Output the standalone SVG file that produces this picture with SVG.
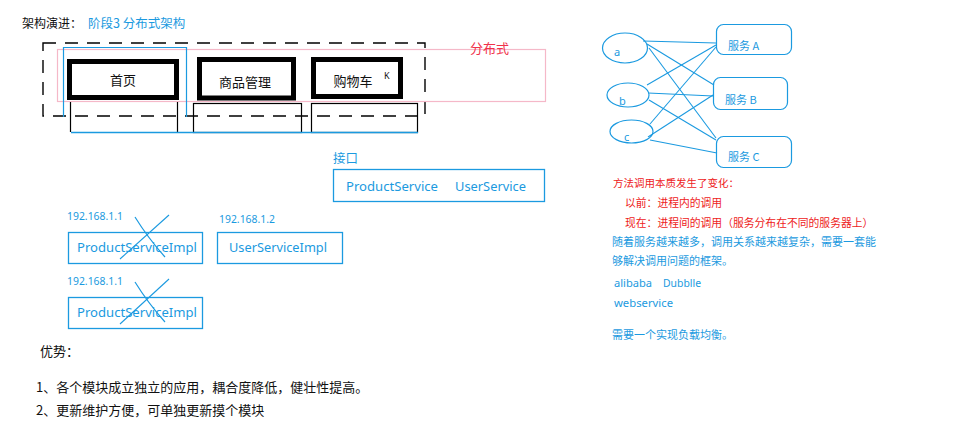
<svg xmlns="http://www.w3.org/2000/svg" width="971" height="430" viewBox="0 0 971 430">
<style>
  .cjk { font-family: "Noto Sans CJK SC", "Noto Sans", sans-serif; }
  .lat { font-family: "Noto Sans", "Noto Sans CJK SC", sans-serif; }
  .blk { fill: #111; }
  .blu { fill: #1b9ae0; }
  .red { fill: #ee2222; }
  .thick { fill: #fff; stroke: #000; stroke-width: 5; }
  .thin { fill: none; stroke: #000; stroke-width: 1.2; }
  .bbox { fill: #fff; stroke: #1b9ae0; stroke-width: 1.3; }
  .bl { fill: none; stroke: #1b9ae0; stroke-width: 1.2; }
  .conn line { stroke: #1b9ae0; stroke-width: 1.1; }
</style>
<rect width="971" height="430" fill="#fff"/>

<!-- title -->
<text class="cjk blk" x="22" y="27.5" font-size="12">架构演进：</text>
<text class="cjk blu" x="88" y="27.5" font-size="12.5">阶段3 分布式架构</text>

<!-- dashed distributed frame -->
<g id="frame">
  <path d="M43,43 H425 V116 H43 Z" fill="none" stroke="#000" stroke-width="1.4" stroke-dasharray="13,9"/>
  <rect x="57.5" y="49.5" width="488" height="52" fill="none" stroke="#f5b8c8" stroke-width="1.2"/>
  <path d="M63.5,117 V47.5 H186.5 V117" class="bl"/>
  <text class="cjk" x="470" y="53" font-size="13" fill="#f0324a">分布式</text>
</g>

<!-- lower thin boxes -->
<g id="lower-boxes">
  <path d="M70.5,102 V132 M177.5,102 V132" class="thin"/>
  <rect x="193.5" y="103.5" width="108" height="29" class="thin"/>
  <rect x="311.5" y="103.5" width="106" height="29" class="thin"/>
  <line x1="71" y1="132.5" x2="418" y2="132.5" stroke="#1b9ae0" stroke-width="1.3"/>
</g>

<g id="node-home">
  <rect x="69.5" y="61.5" width="107" height="36" class="thick"/>
  <text class="cjk blk" x="123" y="85" font-size="13" text-anchor="middle">首页</text>
</g>
<g id="node-goods">
  <rect x="199.5" y="59.5" width="94" height="38.5" class="thick"/>
  <text class="cjk blk" x="245" y="87" font-size="13" text-anchor="middle">商品管理</text>
</g>
<g id="node-cart">
  <rect x="313.5" y="59.5" width="87" height="37" class="thick"/>
  <text class="cjk blk" x="353" y="86" font-size="13" text-anchor="middle">购物车</text>
  <text class="lat blk" x="384" y="79" font-size="9">K</text>
</g>

<!-- interface -->
<g id="node-interface">
  <text class="cjk blu" x="333" y="163" font-size="12.5">接口</text>
  <rect x="333.5" y="169.5" width="211" height="32" class="bbox"/>
  <text class="lat blu" x="346" y="190.5" font-size="13" textLength="92" lengthAdjust="spacingAndGlyphs">ProductService</text>
  <text class="lat blu" x="455" y="190.5" font-size="13" textLength="71" lengthAdjust="spacingAndGlyphs">UserService</text>
</g>

<!-- impls -->
<g id="node-impl1">
  <text class="lat blu" x="67" y="220" font-size="11" textLength="56" lengthAdjust="spacingAndGlyphs">192.168.1.1</text>
  <rect x="68.5" y="232.5" width="134" height="31" class="bbox"/>
  <text class="lat blu" x="77" y="251.5" font-size="13" textLength="120" lengthAdjust="spacingAndGlyphs">ProductServiceImpl</text>
  <path d="M135,217 Q148,238 165,257" class="bl"/>
  <line x1="169" y1="215" x2="120" y2="259" stroke="#1b9ae0" stroke-width="1.1"/>
</g>
<g id="node-impl2">
  <text class="lat blu" x="219" y="223" font-size="11" textLength="56" lengthAdjust="spacingAndGlyphs">192.168.1.2</text>
  <rect x="217.5" y="232.5" width="125" height="31" class="bbox"/>
  <text class="lat blu" x="229" y="251.5" font-size="13" textLength="98" lengthAdjust="spacingAndGlyphs">UserServiceImpl</text>
</g>
<g id="node-impl3">
  <text class="lat blu" x="67" y="285" font-size="11" textLength="56" lengthAdjust="spacingAndGlyphs">192.168.1.1</text>
  <rect x="68.5" y="297.5" width="134" height="31" class="bbox"/>
  <text class="lat blu" x="77" y="316.5" font-size="13" textLength="120" lengthAdjust="spacingAndGlyphs">ProductServiceImpl</text>
  <path d="M135,282 Q148,303 165,322" class="bl"/>
  <line x1="169" y1="279" x2="120" y2="324" stroke="#1b9ae0" stroke-width="1.1"/>
</g>

<!-- advantages -->
<g id="advantages">
  <text class="cjk blk" x="40" y="356" font-size="13">优势：</text>
  <text class="cjk blk" x="36" y="392" font-size="13">1、各个模块成立独立的应用，耦合度降低，健壮性提高。</text>
  <text class="cjk blk" x="36" y="415" font-size="13">2、更新维护方便，可单独更新摸个模块</text>
</g>

<!-- right side: clients and services -->
<g id="client-a">
  <ellipse cx="625" cy="48" rx="22.5" ry="15" class="bl"/>
  <text class="lat blu" x="614" y="55.5" font-size="11">a</text>
</g>
<g id="client-b">
  <ellipse cx="628" cy="95" rx="21" ry="12" class="bl"/>
  <text class="lat blu" x="619" y="105" font-size="11">b</text>
</g>
<g id="client-c">
  <ellipse cx="631.5" cy="131.5" rx="21.5" ry="11.5" class="bl"/>
  <text class="lat blu" x="624" y="141" font-size="11">c</text>
</g>
<g id="service-a">
  <rect x="716.5" y="24.5" width="75" height="30" rx="7" class="bl"/>
  <text class="cjk blu" x="728" y="50" font-size="11">服务 A</text>
</g>
<g id="service-b">
  <rect x="713.5" y="77.5" width="74" height="32" rx="7" class="bl"/>
  <text class="cjk blu" x="725" y="104" font-size="11">服务 B</text>
</g>
<g id="service-c">
  <rect x="716.5" y="136.5" width="75" height="31" rx="7" class="bl"/>
  <text class="cjk blu" x="728" y="161" font-size="11">服务 C</text>
</g>

<g id="connectors" class="conn">
  <line x1="643" y1="41" x2="716" y2="43"/>
  <line x1="647" y1="44" x2="714" y2="85"/>
  <line x1="649" y1="48" x2="716" y2="138"/>
  <line x1="647" y1="85" x2="716" y2="45"/>
  <line x1="648" y1="93" x2="713" y2="96"/>
  <line x1="649" y1="100" x2="716" y2="140"/>
  <line x1="650" y1="124" x2="716" y2="47"/>
  <line x1="648" y1="137" x2="713" y2="95"/>
  <line x1="650" y1="140" x2="717" y2="153"/>
</g>

<!-- notes -->
<g id="notes">
  <text class="cjk red" x="613" y="187" font-size="10.5">方法调用本质发生了变化：</text>
  <text class="cjk red" x="625" y="207" font-size="10.8">以前：进程内的调用</text>
  <text class="cjk red" x="625" y="227" font-size="10.8">现在：进程间的调用（服务分布在不同的服务器上）</text>
  <text class="cjk blu" x="612" y="246" font-size="11">随着服务越来越多，调用关系越来越复杂，需要一套能</text>
  <text class="cjk blu" x="612" y="265" font-size="11">够解决调用问题的框架。</text>
  <text class="lat blu" x="614" y="287" font-size="11" textLength="38" lengthAdjust="spacingAndGlyphs">alibaba</text>
  <text class="lat blu" x="663" y="287" font-size="11" textLength="38" lengthAdjust="spacingAndGlyphs">Dubblle</text>
  <text class="lat blu" x="614" y="307" font-size="11" textLength="59" lengthAdjust="spacingAndGlyphs">webservice</text>
  <text class="cjk blu" x="612" y="339" font-size="11">需要一个实现负载均衡。</text>
</g>
</svg>
